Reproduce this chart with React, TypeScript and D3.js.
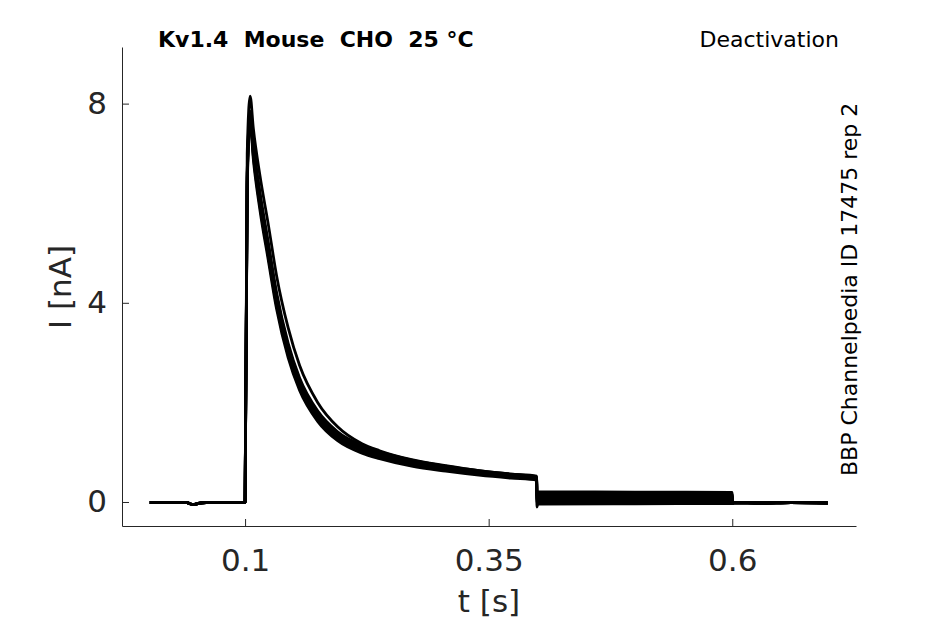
import { useRef, useEffect } from 'react';
import * as d3 from 'd3';

// shared pre-pulse holding segment (all sweeps overlap here)
const BASE_T = [0.0022, 0.02, 0.04, 0.044, 0.048, 0.052, 0.06, 0.08, 0.0998];
const BASE_I = [-0.01, -0.01, -0.01, -0.04, -0.05, -0.03, -0.01, -0.01, -0.01];

// activation peak + inactivation decay
const DECAY_T = [0.1, 0.1022, 0.1052, 0.1085, 0.1153, 0.1238, 0.1323, 0.1442, 0.156, 0.1745, 0.195, 0.22, 0.238, 0.271, 0.306, 0.34, 0.373, 0.3993];
const DECAY_I = [
  [0, 6.3, 7.62, 6.88, 5.86, 4.86, 3.88, 2.9, 2.24, 1.62, 1.23, 0.98, 0.87, 0.72, 0.62, 0.54, 0.48, 0.44],
  [0, 6.4, 7.67, 6.95, 5.94, 4.94, 3.95, 2.96, 2.29, 1.66, 1.27, 1.02, 0.9, 0.75, 0.64, 0.56, 0.5, 0.46],
  [0, 6.5, 7.71, 7.01, 6.01, 5.01, 4.01, 3.01, 2.34, 1.7, 1.3, 1.05, 0.93, 0.77, 0.66, 0.58, 0.52, 0.47],
  [0, 6.5, 7.75, 7.07, 6.08, 5.08, 4.08, 3.07, 2.39, 1.74, 1.34, 1.08, 0.95, 0.79, 0.68, 0.59, 0.53, 0.49],
  [0, 6.6, 7.8, 7.14, 6.15, 5.15, 4.15, 3.13, 2.44, 1.79, 1.38, 1.11, 0.98, 0.82, 0.7, 0.61, 0.55, 0.5],
  [0, 6.6, 7.85, 7.2, 6.22, 5.22, 4.21, 3.19, 2.49, 1.83, 1.41, 1.14, 1.01, 0.84, 0.72, 0.63, 0.56, 0.51],
  [0, 7.0, 8.15, 7.5, 6.55, 5.58, 4.55, 3.5, 2.74, 2.0, 1.51, 1.17, 1.03, 0.85, 0.73, 0.63, 0.56, 0.52],
];

// deactivation tail currents
const TAIL_T = [0.3995, 0.4005, 0.5, 0.6];
const TAIL_I = [
  [-0.1, -0.04, -0.035, -0.03],
  [0.0, 0.005, 0.005, 0.005],
  [0.045, 0.045, 0.045, 0.04],
  [0.085, 0.085, 0.08, 0.075],
  [0.125, 0.125, 0.12, 0.115],
  [0.165, 0.165, 0.16, 0.155],
  [0.21, 0.21, 0.2, 0.195],
];

// shared return to holding
const END_T = [0.6005, 0.602, 0.63, 0.66, 0.698];
const END_I = [-0.03, -0.01, -0.02, -0.01, -0.02];

const X_TICKS = [0.1, 0.35, 0.6];
const Y_TICKS = [0, 4, 8];

export default function App() {
  const ref = useRef<SVGSVGElement>(null);

  useEffect(() => {
    const svg = ref.current;
    if (!svg) return;
    const W = 945, H = 624;
    d3.select(svg).selectAll('*').remove();
    const g = d3.select(svg).attr('width', W).attr('height', H).append('g');

    const x = d3.scaleLinear().domain([-0.0263, 0.727]).range([122, 856]);
    const y = d3.scaleLinear().domain([-0.482, 9.137]).range([526, 47]);
    const font = '"DejaVu Sans", sans-serif';
    const axisColor = '#262626';

    // traces
    const line = d3.line<[number, number]>().x((d) => x(d[0])).y((d) => y(d[1])).curve(d3.curveMonotoneX);
    DECAY_I.forEach((decay, k) => {
      const pts: [number, number][] = [];
      BASE_T.forEach((t, i) => pts.push([t, BASE_I[i]]));
      DECAY_T.forEach((t, i) => pts.push([t, decay[i]]));
      TAIL_T.forEach((t, i) => pts.push([t, TAIL_I[k][i]]));
      END_T.forEach((t, i) => pts.push([t, END_I[i]]));
      g.append('path').attr('d', line(pts)).attr('fill', 'none')
        .attr('stroke', '#000').attr('stroke-width', 2.8).attr('stroke-linejoin', 'round');
    });

    // axes
    const xAxis = g.append('g').attr('transform', `translate(0,526)`)
      .call(d3.axisBottom(x).tickValues(X_TICKS).tickSizeInner(-7).tickSizeOuter(0).tickPadding(23)
        .tickFormat((d) => String(d)));
    const yAxis = g.append('g').attr('transform', `translate(122,0)`)
      .call(d3.axisLeft(y).tickValues(Y_TICKS).tickSizeInner(-7).tickSizeOuter(0).tickPadding(15)
        .tickFormat((d) => String(d)));
    [xAxis, yAxis].forEach((a) => {
      a.select('.domain').attr('stroke', axisColor).attr('stroke-width', 1);
      a.selectAll('.tick line').attr('stroke', axisColor).attr('stroke-width', 1);
      a.selectAll('.tick text').attr('fill', axisColor).attr('font-size', 31).attr('font-family', font);
    });

    // axis labels
    g.append('text').attr('x', 489).attr('y', 612).attr('text-anchor', 'middle')
      .attr('font-size', 31).attr('font-family', font).attr('fill', axisColor).text('t [s]');
    g.append('text').attr('transform', 'translate(71,287) rotate(-90)').attr('text-anchor', 'middle')
      .attr('font-size', 31).attr('font-family', font).attr('fill', axisColor).text('I [nA]');

    // annotations
    g.append('text').attr('x', 158).attr('y', 47).attr('font-size', 22).attr('font-weight', 'bold')
      .attr('font-family', font).attr('fill', '#000').text('Kv1.4\u00A0\u00A0Mouse\u00A0\u00A0CHO\u00A0\u00A025\u00A0°C');
    g.append('text').attr('x', 839).attr('y', 47).attr('text-anchor', 'end').attr('font-size', 22)
      .attr('font-family', font).attr('fill', '#000').text('Deactivation');
    g.append('text').attr('transform', 'translate(857,476) rotate(-90)').attr('font-size', 22)
      .attr('font-family', font).attr('fill', '#000').text('BBP Channelpedia ID 17475 rep 2');
  }, []);

  return (
    <div style={{ position: 'absolute', left: 0, top: 0, background: '#fff' }}>
      <svg ref={ref} style={{ display: 'block' }} />
    </div>
  );
}
